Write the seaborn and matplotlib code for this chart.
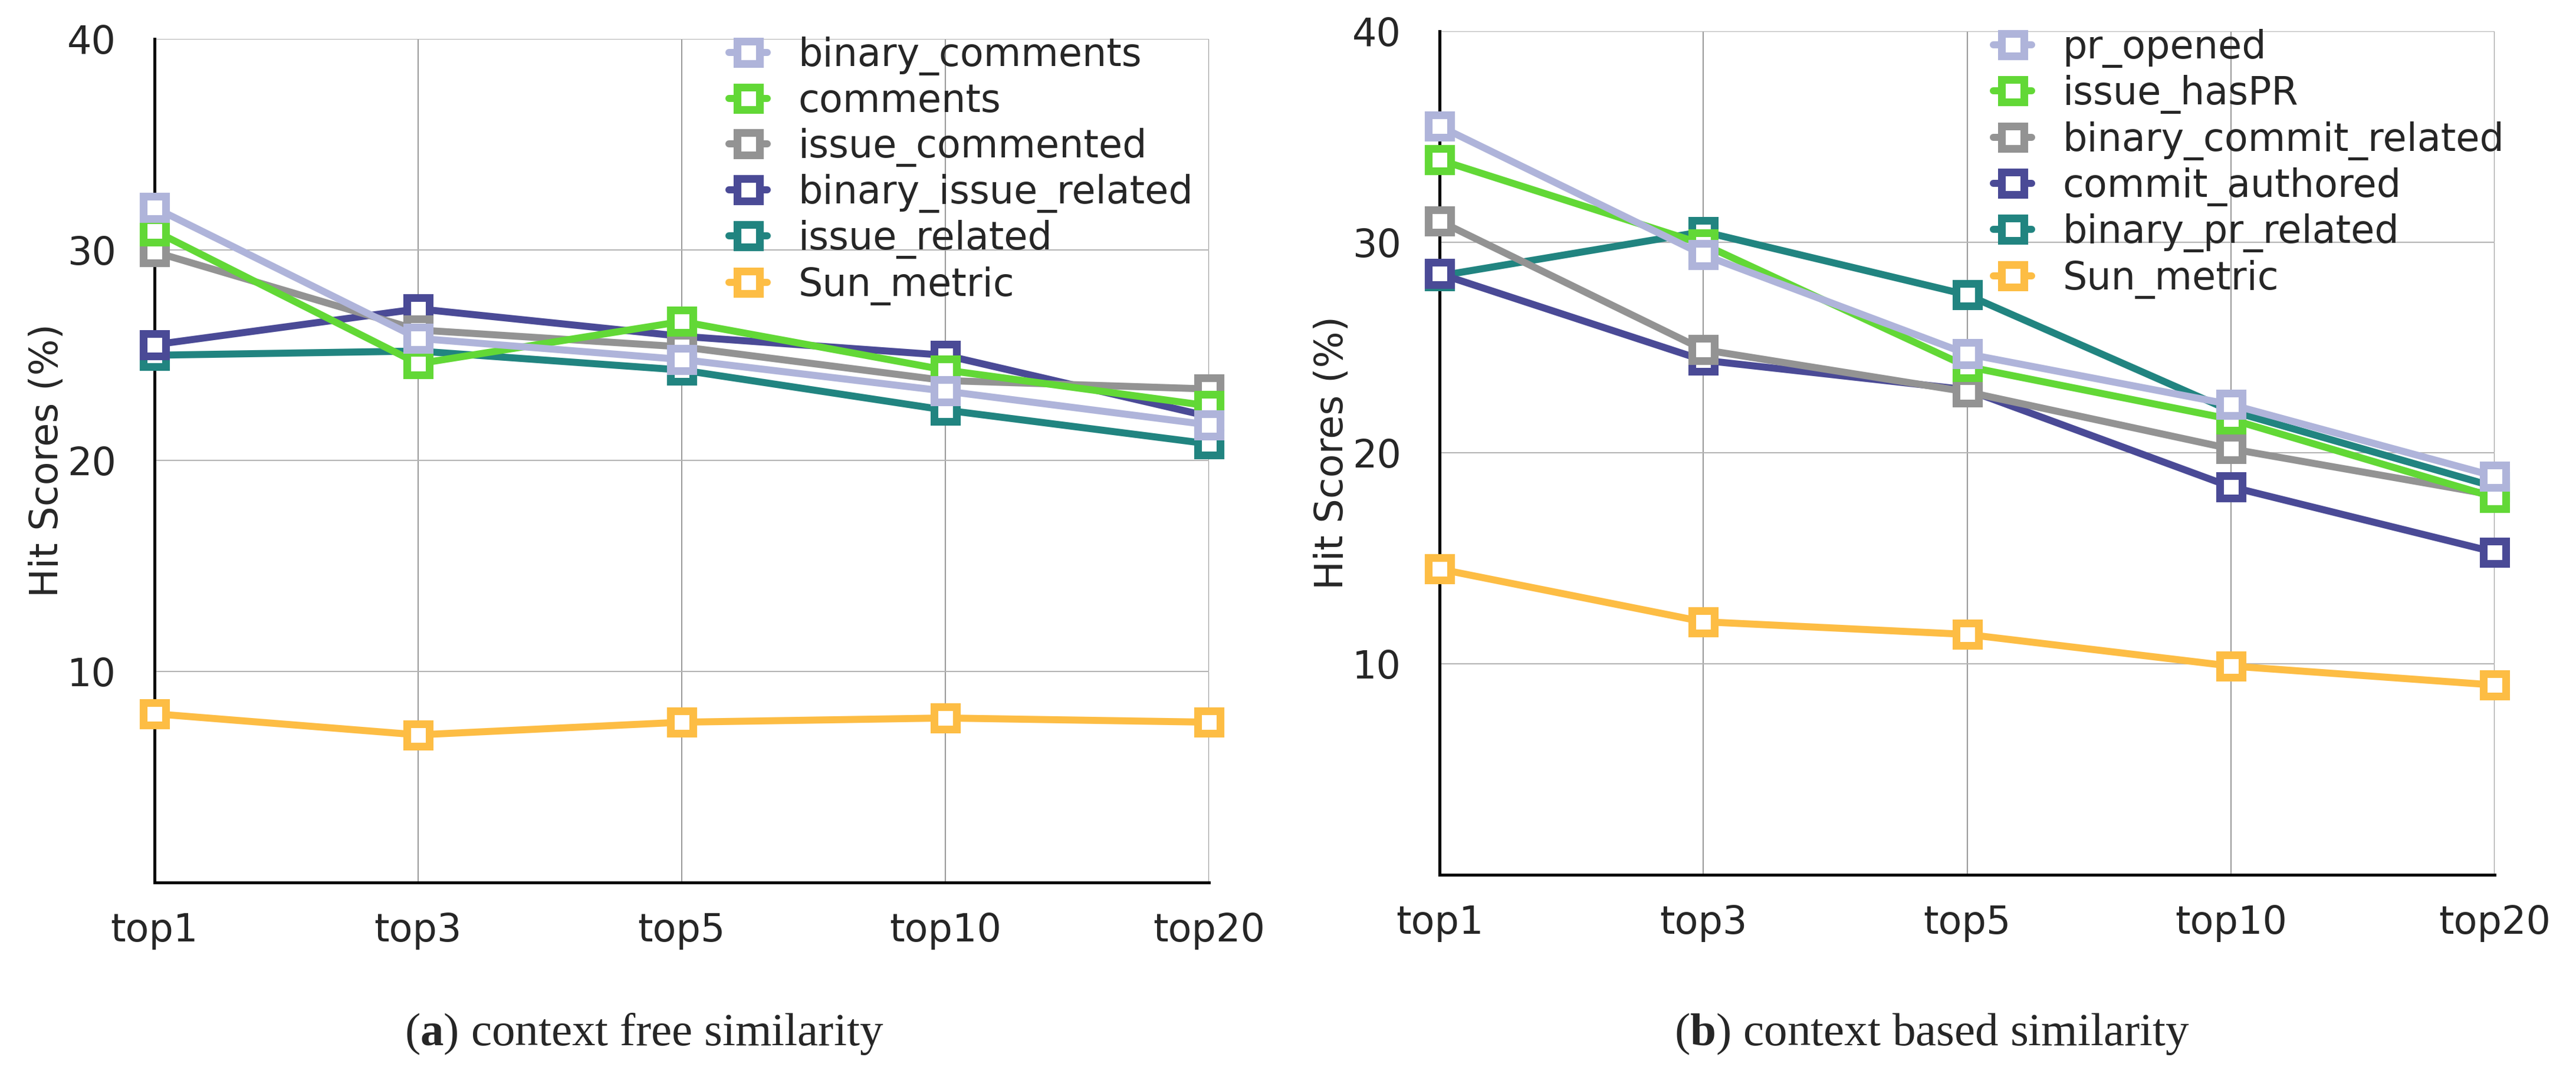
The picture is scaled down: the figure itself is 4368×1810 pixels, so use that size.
import pandas as pd
import seaborn as sns
import matplotlib.pyplot as plt

# x categories
ranks = ['top1', 'top3', 'top5', 'top10', 'top20']

# (a) context free similarity
free_names = ['binary_comments', 'comments', 'issue_commented',
              'binary_issue_related', 'issue_related', 'Sun_metric']
binary_comments = [32.0, 25.8, 24.8, 23.3, 21.7]
comments = [30.9, 24.6, 26.6, 24.3, 22.6]
issue_commented = [29.9, 26.2, 25.4, 23.8, 23.4]
binary_issue_related = [25.5, 27.2, 25.9, 25.0, 22.1]
issue_related = [25.0, 25.2, 24.3, 22.4, 20.8]
sun_free = [8.0, 7.0, 7.6, 7.8, 7.6]

# (b) context based similarity
based_names = ['pr_opened', 'issue_hasPR', 'binary_commit_related',
               'commit_authored', 'binary_pr_related', 'Sun_metric']
pr_opened = [35.5, 29.4, 24.7, 22.3, 18.9]
issue_hasPR = [33.9, 29.9, 24.1, 21.6, 17.9]
binary_commit_related = [31.0, 24.9, 22.9, 20.2, 18.0]
commit_authored = [28.5, 24.4, 23.0, 18.4, 15.3]
binary_pr_related = [28.4, 30.5, 27.5, 22.0, 18.4]
sun_based = [14.5, 12.0, 11.4, 9.9, 9.0]

colors = ['#afb4da', '#62d836', '#939393', '#4a4a96', '#218480', '#fdbd44']


def long_form(names, series):
    rows = []
    for name, vals in zip(names, series):
        for r, v in zip(ranks, vals):
            rows.append({'rank': r, 'series': name, 'score': v})
    return pd.DataFrame(rows)


df_free = long_form(free_names, [binary_comments, comments, issue_commented,
                                 binary_issue_related, issue_related, sun_free])
df_based = long_form(based_names, [pr_opened, issue_hasPR, binary_commit_related,
                                   commit_authored, binary_pr_related, sun_based])

sns.set_style('white')
plt.rcParams['font.family'] = ['DejaVu Sans']
plt.rcParams['mathtext.fontset'] = 'custom'
plt.rcParams['mathtext.rm'] = 'Liberation Serif'
plt.rcParams['mathtext.bf'] = 'Liberation Serif:bold'

FS = 23.5
fig = plt.figure(figsize=(21.84, 9.05), dpi=200)
ax_a = fig.add_axes([0.05998, 0.17293, 0.40934, 0.79061])
ax_b = fig.add_axes([0.55884, 0.18011, 0.40957, 0.79061])


def draw_panel(ax, df, names, leg_x):
    for i, (name, c) in enumerate(zip(names, colors)):
        sub = df[df['series'] == name]
        sns.lineplot(data=sub, x='rank', y='score', ax=ax, color=c, lw=4.3,
                     marker='s', markersize=13.7, markerfacecolor='white',
                     markeredgecolor=c, markeredgewidth=4.7, label=name,
                     zorder=10 - i, clip_on=False, sort=False)
    ax.set_xlim(0, 4)
    ax.set_ylim(0, 40)
    ax.set_yticks([10, 20, 30, 40])
    ax.set_xlabel('')
    ax.set_ylabel('Hit Scores (%)', fontsize=FS)
    ax.yaxis.set_label_coords(-0.084, 0.5)
    ax.tick_params(axis='y', length=0, pad=23.4, labelsize=FS)
    ax.tick_params(axis='x', length=0, pad=18, labelsize=FS)
    ax.xaxis.grid(True, color='#9a9a9a', lw=0.75)
    ax.yaxis.grid(True, color='#b4b4b4', lw=0.75)
    ax.set_axisbelow(True)
    for s in ['top', 'right']:
        ax.spines[s].set_visible(False)
    for s in ['left', 'bottom']:
        ax.spines[s].set_color('black')
        ax.spines[s].set_linewidth(1.8)
        ax.spines[s].set_zorder(3)
    handles, labels = ax.get_legend_handles_labels()
    ax.legend(handles, labels, loc='upper left', bbox_to_anchor=(leg_x, 1.003),
              frameon=False, fontsize=FS, borderpad=0, borderaxespad=0,
              handlelength=1.0, handletextpad=0.8, labelspacing=0.19)


draw_panel(ax_a, df_free, free_names, 0.5447)
draw_panel(ax_b, df_based, based_names, 0.5249)

cap_kw = dict(ha='center', va='baseline', fontsize=28.5, family='Liberation Serif')
fig.text(0.25, 0.0204, r'($\mathbf{a}$) context free similarity', **cap_kw)
fig.text(0.75, 0.0204, r'($\mathbf{b}$) context based similarity', **cap_kw)

fig.savefig('out.png', dpi=200)
